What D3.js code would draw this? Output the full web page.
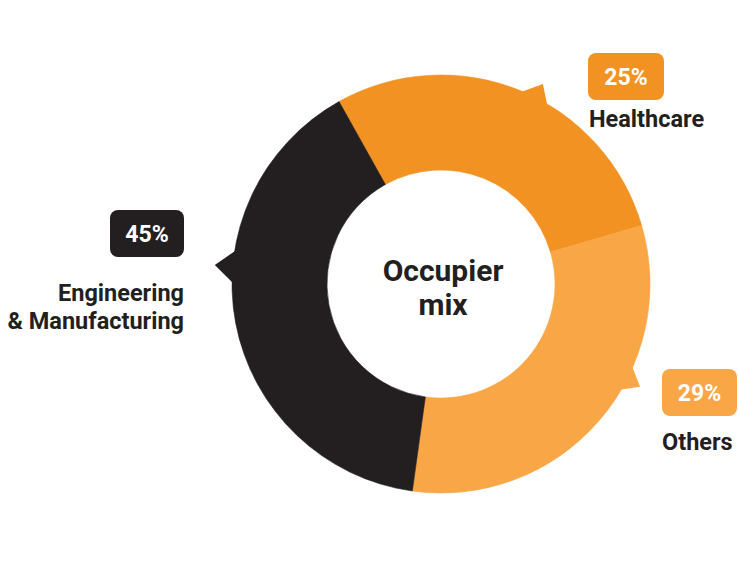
<!DOCTYPE html>
<html>
<head>
<meta charset="utf-8">
<script src="https://cdn.jsdelivr.net/npm/d3@7"></script>
<style>
  html, body { margin: 0; padding: 0; background: #ffffff; }
  svg { display: block; }
  text { font-family: Roboto, "Noto Sans", sans-serif; font-weight: 700; }
</style>
</head>
<body>
<svg id="chart" width="738" height="569"></svg>
<script>
// ---- data ----
const categories = ["Healthcare", "Others", "Engineering & Manufacturing"];
const nameLines = [["Healthcare"], ["Others"], ["Engineering", "& Manufacturing"]];
const percentLabels = ["25%", "29%", "45%"];
// slice sizes as drawn in the picture (share of the ring, %)
const drawnShares = [28.6, 31.7, 39.7];
const centerTitle = ["Occupier", "mix"];

// ---- style / layout ----
const colors = ["#F29222", "#F9A646", "#231F20"];
const textColor = "#231F20";
const W = 738, H = 569;
const cx = 441, cy = 284, rOuter = 209, rInner = 114;
const startDeg = -29.2;
// callout tips on the ring: base angles, tip angle (deg clockwise from north), tip radius
const tips = [
  { a0: 22, a1: 31.2, at: 27, r: 224.5 },
  { a0: 112.7, a1: 121, at: 117.3, r: 224 },
  { a0: 269.7, a1: 279.8, at: 274.8, r: 227 }
];
// label boxes
const labelLayout = [
  { box: [588, 53, 76, 47], nameX: 589, nameY: 127, anchor: "start" },
  { box: [662, 369, 75, 47], nameX: 662, nameY: 450, anchor: "start" },
  { box: [110, 210, 74, 47], nameX: 184, nameY: 301, anchor: "end" }
];

const svg = d3.select("#chart");
const g = svg.append("g").attr("transform", `translate(${cx},${cy})`);

const toRad = d => d * Math.PI / 180;
const pie = d3.pie().sort(null).value(d => d)
  .startAngle(toRad(startDeg)).endAngle(toRad(startDeg) + 2 * Math.PI);
const arc = d3.arc().innerRadius(rInner).outerRadius(rOuter);
const arcs = pie(drawnShares);

g.selectAll("path.slice").data(arcs).join("path")
  .attr("class", "slice")
  .attr("d", arc)
  .attr("fill", (d, i) => colors[i])
  .attr("stroke", (d, i) => colors[i])
  .attr("stroke-width", 0.6);

const polar = (deg, r) => [r * Math.sin(toRad(deg)), -r * Math.cos(toRad(deg))];
g.selectAll("path.tip").data(tips).join("path")
  .attr("class", "tip")
  .attr("d", t => {
    const p0 = polar(t.a0, rOuter - 3), p1 = polar(t.at, t.r), p2 = polar(t.a1, rOuter - 3);
    return "M" + p0 + "L" + p1 + "L" + p2 + "Z";
  })
  .attr("fill", (d, i) => colors[i]);

// center title
g.selectAll("text.center").data(centerTitle).join("text")
  .attr("class", "center")
  .attr("x", 2)
  .attr("y", (d, i) => -3 + i * 34)
  .attr("text-anchor", "middle")
  .attr("font-size", 30)
  .attr("fill", textColor)
  .text(d => d);

// labels
const lab = svg.selectAll("g.label").data(categories).join("g").attr("class", "label");
lab.append("rect")
  .attr("x", (d, i) => labelLayout[i].box[0])
  .attr("y", (d, i) => labelLayout[i].box[1])
  .attr("width", (d, i) => labelLayout[i].box[2])
  .attr("height", (d, i) => labelLayout[i].box[3])
  .attr("rx", 8)
  .attr("fill", (d, i) => colors[i]);
lab.append("text")
  .attr("x", (d, i) => labelLayout[i].box[0] + labelLayout[i].box[2] / 2)
  .attr("y", (d, i) => labelLayout[i].box[1] + labelLayout[i].box[3] / 2 + 8)
  .attr("text-anchor", "middle")
  .attr("font-size", 23)
  .attr("fill", "#ffffff")
  .text((d, i) => percentLabels[i]);
lab.each(function (d, i) {
  const L = labelLayout[i];
  d3.select(this).selectAll("text.name").data(nameLines[i]).join("text")
    .attr("class", "name")
    .attr("x", L.nameX)
    .attr("y", (s, j) => L.nameY + j * 28)
    .attr("text-anchor", L.anchor)
    .attr("font-size", 23.5)
    .attr("fill", textColor)
    .text(s => s);
});
</script>
</body>
</html>
